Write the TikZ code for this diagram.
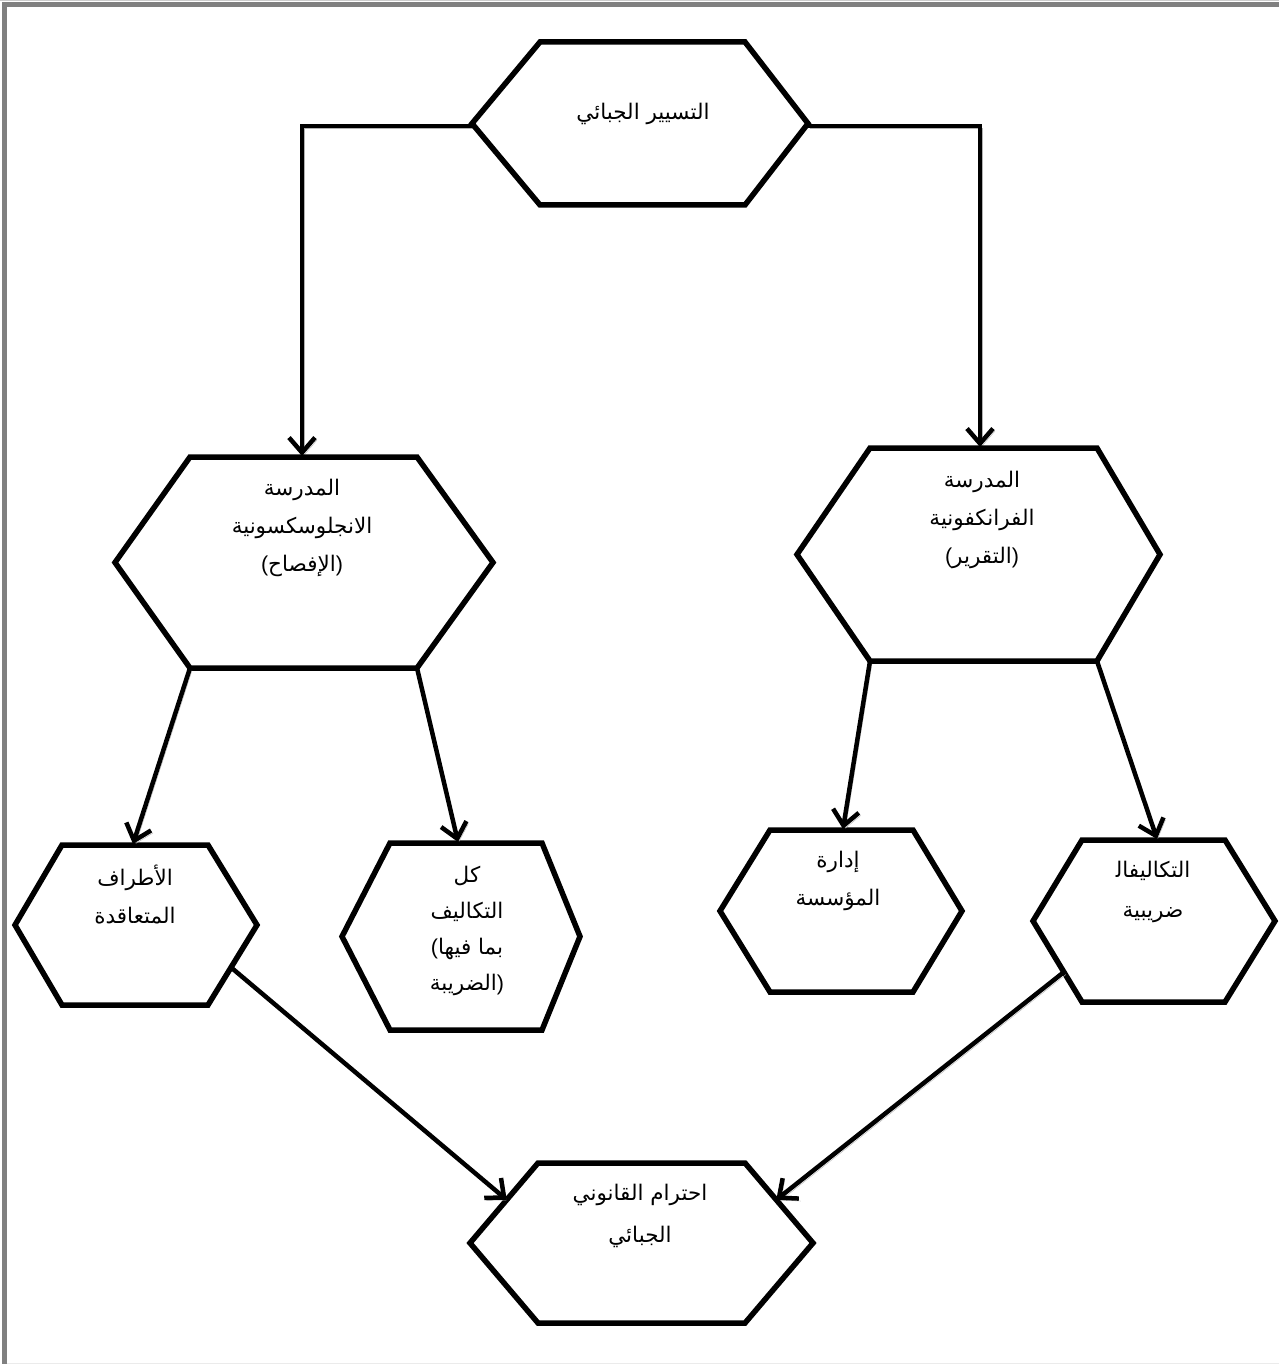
\documentclass[tikz,border=0pt]{standalone}
\usepackage{fontspec}
\usetikzlibrary{arrows.meta,calc}
\TeXXeTstate=1
\newfontfamily\arabicfont[Script=Arabic]{DejaVu Sans}
\newfontfamily\parfont{Liberation Sans}
\newcommand\po{{\parfont(}}
\newcommand\pc{{\parfont)}}
\tikzset{
  hexline/.style={draw=black, line width=5.5pt, line join=miter, fill=white},
  conn/.style={line width=4.5pt, draw=black,
    -{Straight Barb[length=15pt,width=26pt,line width=4.5pt]},
    preaction={draw=black!30, transform canvas={shift={(2pt,-2.5pt)}}}},
  lbl/.style={inner sep=0pt, align=center, anchor=north,
    font=\arabicfont\fontsize{21.5}{38}\selectfont}
}
\newcommand\hexa[7]{%
  \coordinate (#1-l) at (#2,{(#6+#7)/2});
  \coordinate (#1-tl) at (#3,#6);
  \coordinate (#1-tr) at (#4,#6);
  \coordinate (#1-r) at (#5,{(#6+#7)/2});
  \coordinate (#1-br) at (#4,#7);
  \coordinate (#1-bl) at (#3,#7);
  \draw[hexline] (#1-l) -- (#1-tl) -- (#1-tr) -- (#1-r) -- (#1-br) -- (#1-bl) -- cycle;}
\begin{document}
\begin{tikzpicture}[x=1pt,y=-1pt]
\useasboundingbox (0,0) rectangle (1279,1364);
\fill[white] (0,0) rectangle (1279,1364);
% frame
\draw[draw=black!50, line width=5pt] (4.5,1364) -- (4.5,4.5) -- (1279,4.5);
\draw[draw=black!8, line width=1pt] (7,1363) -- (1279,1363);
\draw[draw=black!20, line width=1pt] (0,0.5) -- (1279,0.5);
% connector ends
\coordinate (Lin) at (302,456);
\coordinate (Rin) at (980,447);
\coordinate (Ain) at (133,844);
\coordinate (Bin) at (458,842);
\coordinate (Cin) at (843,829);
\coordinate (Din) at (1157,839);
% connectors drawn first, hexagons on top
\coordinate (TL) at (472,126);
\coordinate (TR) at (808,126);
\draw[conn] (TL) -| (Lin);
\draw[conn] (TR) -| (Rin);
% hexagons
\hexa{TH}{472}{540}{745}{808}{42}{205}
\hexa{LH}{115}{190}{417}{493}{457}{668}
\hexa{RH}{797}{870}{1097}{1160}{448}{661}
\hexa{AH}{15}{62}{208}{257}{845}{1005}
\hexa{BH}{342}{390}{542}{580}{843}{1030}
\hexa{CH}{720}{770}{913}{962}{830}{992}
\hexa{DH}{1033}{1082}{1225}{1275}{840}{1002}
\hexa{FH}{470}{538}{745}{813}{1163}{1323}
% texts
\node[lbl] (T) at (643,103) {\beginR التسيير الجبائي\endR};
\node[lbl] (L) at (302,479) {\beginR المدرسة\endR\\ \beginR الانجلوسكسونية\endR\\ \po\beginR الإفصاح\endR\pc};
\node[lbl] (R) at (982,471) {\beginR المدرسة\endR\\ \beginR الفرانكفونية\endR\\ \po\beginR التقرير\endR\pc};
\node[lbl] (A) at (135,865) {\beginR الأطراف\endR\\ \beginR المتعاقدة\endR};
\node[lbl] (B) at (467,866) {\beginR كل\endR\\[-2pt] \beginR التكاليف\endR\\[-2pt] \po\beginR بما فيها\endR\\[-2pt] \beginR الضريبة\endR\pc};
\node[lbl] (C) at (838,851) {\beginR إدارة\endR\\ \beginR المؤسسة\endR};
\node[lbl] (D) at (1153,861) {\beginR التكاليفال^^^^200d\endR\\[2pt] \beginR ضريبية\endR};
\node[lbl] (F) at (640,1184) {\beginR احترام القانوني\endR\\[4pt] \beginR الجبائي\endR};
% connector ends on hexagon edges
\coordinate (Aout) at ($(AH-r)!0.53!(AH-br)$);
\coordinate (Dout) at ($(DH-l)!0.63!(DH-bl)$);
\coordinate (Fl) at ($(FH-l)!0.54!(FH-tl)$);
\coordinate (Fr) at ($(FH-r)!0.54!(FH-tr)$);
% connectors
\draw[conn] (LH-bl) -- (Ain);
\draw[conn] (LH-br) -- (Bin);
\draw[conn] (RH-bl) -- (Cin);
\draw[conn] (RH-br) -- (Din);
\draw[conn] (Aout) -- (Fl);
\draw[conn] (Dout) -- (Fr);
\end{tikzpicture}
\end{document}
